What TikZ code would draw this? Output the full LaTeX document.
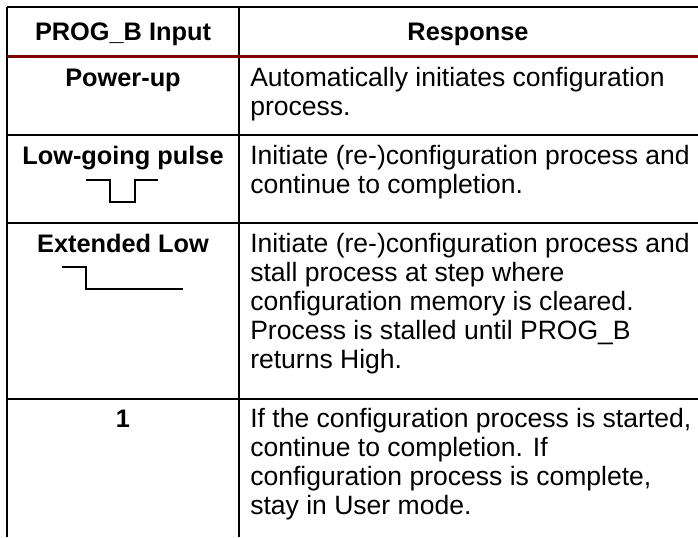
\documentclass[tikz,border=0pt]{standalone}
\usepackage{fontspec}
\setmainfont{Liberation Sans}
\usepackage{tikz}

\begin{document}
\begin{tikzpicture}[x=0.75pt,y=0.75pt,yscale=-1,xscale=1,
    rule/.style={line width=1pt},
    headrule/.style={line width=2.25pt,color={rgb, 255:red, 128; green, 0; blue, 0 }},
    lbl/.style={anchor=base,inner sep=0pt,font=\fontsize{19}{22}\selectfont\bfseries},
    resp/.style={anchor=base west,inner sep=0pt,font=\fontsize{19.9}{22}\selectfont}]
    \useasboundingbox (0,0) rectangle (698,537);
    %Straight Lines [table frame]
    \draw [rule] (7,7) -- (698,7) ;
    \draw [rule] (7,7) -- (7,537) ;
    \draw [rule] (239,7) -- (239,537) ;
    \foreach \yy in {135,223,399}
        \draw [rule] (7,\yy) -- (698,\yy) ;
    %Straight Lines [header rule]
    \draw [headrule] (7,56) -- (698,56) ;
    %Straight Lines [pulse]
    \draw [rule] (86,180) -- (110,180) -- (110,202) -- (135,202) -- (135,180) -- (158,180) ;
    %Straight Lines [extended low]
    \draw [rule] (62,267) -- (86,267) -- (86,289) -- (183,289) ;
    % Text Node
    \node [lbl] (hdin) at (123,40) {PROG\_B Input};
    % Text Node
    \node [lbl] (hdresp) at (468,40) {Response};
    % Text Node
    \node [lbl] (inpwr) at (123,86) {Power-up};
    \node [lbl] (inpulse) at (123,164) {Low-going pulse};
    \node [lbl] (inext) at (123,252) {Extended Low};
    \node [lbl] (inone) at (123,427) {1};
    % Text Node
    \foreach \ln [count=\k] in {{Automatically initiates configuration},{process.}}
        \node [resp] (pwr\k) at (250,{86+29*(\k-1)}) {\ln};
    \foreach \ln [count=\k] in {{Initiate (re-)configuration process and},{continue to completion.}}
        \node [resp] (pulse\k) at (250,{164+29*(\k-1)}) {\ln};
    \foreach \ln [count=\k] in {{Initiate (re-)configuration process and},{stall process at step where},{configuration memory is cleared.},{Process is stalled until PROG\_B},{returns High.}}
        \node [resp] (ext\k) at (250,{252+29*(\k-1)}) {\ln};
    \foreach \ln [count=\k] in {{If the configuration process is started,},{continue to completion. If},{configuration process is complete,},{stay in User mode.}}
        \node [resp] (one\k) at (250,{427+29*(\k-1)}) {\ln};
\end{tikzpicture}
\end{document}
